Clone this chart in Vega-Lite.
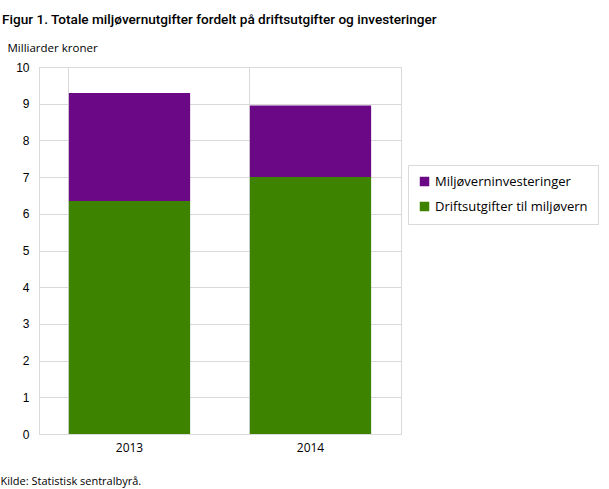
{
  "$schema": "https://vega.github.io/schema/vega-lite/v6.json",
  "width": 362,
  "height": 367,
  "autosize": "none",
  "padding": {"left": 39, "top": 67, "right": 208, "bottom": 55},
  "background": "white",
  "title": {
    "text": "Figur 1. Totale miljøvernutgifter fordelt på driftsutgifter og investeringer",
    "anchor": "start",
    "frame": "group",
    "dx": -37,
    "offset": 15,
    "font": "Roboto",
    "fontSize": 13.6,
    "fontWeight": 500,
    "color": "#000000"
  },
  "data": {
    "values": [
      {"year": "2013", "serie": "Driftsutgifter til miljøvern", "rank": 1, "value": 6.35},
      {"year": "2013", "serie": "Miljøverninvesteringer", "rank": 2, "value": 2.94},
      {"year": "2014", "serie": "Driftsutgifter til miljøvern", "rank": 1, "value": 7.0},
      {"year": "2014", "serie": "Miljøverninvesteringer", "rank": 2, "value": 1.95}
    ]
  },
  "mark": {"type": "bar"},
  "encoding": {
    "x": {
      "field": "year",
      "type": "nominal",
      "scale": {"paddingInner": 0.33, "paddingOuter": 0.165},
      "axis": {
        "title": "Kilde: Statistisk sentralbyrå.",
        "titleFont": "Open Sans",
        "titleFontSize": 11,
        "titleFontWeight": "normal",
        "titleColor": "#000000",
        "titleAnchor": "start",
        "titleAlign": "left",
        "titleBaseline": "alphabetic",
        "titleX": -39,
        "titleY": 50,
        "labelAngle": 0,
        "labelFont": "Open Sans",
        "labelFontSize": 12,
        "labelColor": "#000000",
        "labelPadding": 8,
        "ticks": false,
        "domain": false,
        "grid": true,
        "bandPosition": 0,
        "gridColor": "#d9d9d9"
      }
    },
    "y": {
      "field": "value",
      "type": "quantitative",
      "stack": "zero",
      "scale": {"domain": [0, 10], "nice": false},
      "axis": {
        "title": "Milliarder  kroner",
        "titleFont": "Open Sans",
        "titleFontSize": 11.5,
        "titleFontWeight": "normal",
        "titleColor": "#000000",
        "titleAngle": 0,
        "titleAlign": "left",
        "titleBaseline": "alphabetic",
        "titleX": -32,
        "titleY": -16,
        "values": [0, 1, 2, 3, 4, 5, 6, 7, 8, 9, 10],
        "labelOverlap": false,
        "labelFont": "Liberation Sans",
        "labelFontSize": 12,
        "labelColor": "#000000",
        "labelPadding": 10,
        "ticks": false,
        "domain": true,
        "domainColor": "#d9d9d9",
        "gridColor": "#d9d9d9"
      }
    },
    "color": {
      "field": "serie",
      "type": "nominal",
      "scale": {
        "domain": ["Miljøverninvesteringer", "Driftsutgifter til miljøvern"],
        "range": ["#6a0886", "#3e8300"]
      },
      "legend": {
        "title": null,
        "orient": "none",
        "legendX": 369,
        "legendY": 98,
        "strokeColor": "#d9d9d9",
        "padding": 10,
        "symbolType": "square",
        "symbolSize": 90,
        "symbolStrokeWidth": 0,
        "labelFont": "Open Sans",
        "labelFontSize": 13,
        "labelColor": "#000000",
        "rowPadding": 11,
        "labelOffset": 4
      }
    },
    "order": {"field": "rank", "type": "quantitative", "sort": "ascending"}
  },
  "config": {
    "view": {"stroke": "#d9d9d9"}
  }
}
